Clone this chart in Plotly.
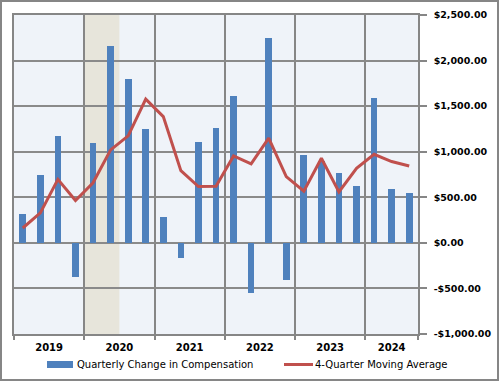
import plotly.graph_objects as go

# ---- data ----
quarters = ["2019 Q1", "2019 Q2", "2019 Q3", "2019 Q4",
            "2020 Q1", "2020 Q2", "2020 Q3", "2020 Q4",
            "2021 Q1", "2021 Q2", "2021 Q3", "2021 Q4",
            "2022 Q1", "2022 Q2", "2022 Q3", "2022 Q4",
            "2023 Q1", "2023 Q2", "2023 Q3", "2023 Q4",
            "2024 Q1", "2024 Q2", "2024 Q3"]
comp_change = [314, 744, 1174, -380,
               1097, 2165, 1799, 1251,
               281, -165, 1108, 1265,
               1613, -545, 2249, -402,
               965, 900, 766, 623,
               1594, 590, 546]
moving_avg = [163, 329, 697, 465,
              659, 1020, 1174, 1577,
              1385, 792, 618, 620,
              954, 866, 1149, 727,
              568, 928, 558, 818,
              972, 892, 843]
years = ["2019", "2020", "2021", "2022", "2023", "2024"]
recession_quarters = ["2020 Q1", "2020 Q2"]
y_tick_vals = [-1000, -500, 0, 500, 1000, 1500, 2000, 2500]
y_tick_text = ["-$1,000.00", "-$500.00", "$0.00", "$500.00",
               "$1,000.00", "$1,500.00", "$2,000.00", "$2,500.00"]
series_names = ["Quarterly Change in Compensation", "4-Quarter Moving Average"]

# ---- derived positions ----
x_idx = list(range(len(quarters)))
year_centers = []
year_bounds = [-0.5]
for yr in years:
    idx = [i for i, q in enumerate(quarters) if q.startswith(yr)]
    year_centers.append(sum(idx) / len(idx))
    year_bounds.append(max(idx) + 0.5)
rec_idx = [quarters.index(q) for q in recession_quarters]

GRID = "#868686"
BLUE = "#4F81BD"
RED = "#C0504D"
FONT = "DejaVu Sans"

fig = go.Figure()
fig.add_trace(go.Bar(x=x_idx, y=comp_change, width=0.38, marker_color=BLUE,
                     marker_line_width=0, name=series_names[0], showlegend=False))
fig.add_trace(go.Scatter(x=x_idx, y=moving_avg, mode="lines",
                         line=dict(color=RED, width=3), name=series_names[1],
                         showlegend=False))

# recession shading
fig.add_shape(type="rect", xref="x", yref="y",
              x0=min(rec_idx) - 0.5, x1=max(rec_idx) + 0.5,
              y0=min(y_tick_vals), y1=max(y_tick_vals),
              fillcolor="#E7E5DB", line_width=0, layer="below")

# plot area geometry (pixels) for paper conversions
W, H = 500, 381
ML, MR, MT, MB = 14, 82, 15, 47
PW, PH = W - ML - MR, H - MT - MB


def px(xp):
    return (xp - ML) / PW


def py(yp):
    return (H - MB - yp) / PH


# outer chart border
fig.add_shape(type="rect", xref="paper", yref="paper",
              x0=px(1), x1=px(498), y0=py(380), y1=py(1),
              line=dict(color=GRID, width=2), fillcolor="rgba(0,0,0,0)", layer="above")

# manual legend
fig.add_shape(type="rect", xref="paper", yref="paper",
              x0=px(47), x1=px(73), y0=py(368), y1=py(361),
              fillcolor=BLUE, line_width=0)
fig.add_annotation(xref="paper", yref="paper", x=px(75), y=py(364.5),
                   text=series_names[0], showarrow=False, xanchor="left", yanchor="middle",
                   font=dict(family=FONT, size=10, color="#000000"))
fig.add_shape(type="line", xref="paper", yref="paper",
              x0=px(284), x1=px(313), y0=py(364.5), y1=py(364.5),
              line=dict(color=RED, width=3))
fig.add_annotation(xref="paper", yref="paper", x=px(313), y=py(364.5),
                   text=series_names[1], showarrow=False, xanchor="left", yanchor="middle",
                   font=dict(family=FONT, size=10, color="#000000"))

fig.update_layout(
    width=W, height=H,
    margin=dict(l=ML, r=MR, t=MT, b=MB, pad=0),
    paper_bgcolor="#FFFFFF",
    plot_bgcolor="#EFF3F9",
    font=dict(family=FONT, size=10, color="#000000"),
    showlegend=False,
    bargap=0,
    xaxis=dict(
        range=[-0.5, len(quarters) - 0.5],
        tickmode="array", tickvals=year_centers, ticktext=years,
        ticks="", showgrid=False, zeroline=False,
        showline=True, linecolor=GRID, linewidth=1.5, mirror=True,
        tickfont=dict(family=FONT, size=10, color="#000000", weight="bold"),
        ticklabelstandoff=3,
        automargin=False,
        minor=dict(tickmode="array", tickvals=year_bounds, ticks="outside",
                   ticklen=4, tickcolor=GRID, tickwidth=1.5,
                   showgrid=True, gridcolor=GRID, gridwidth=1.5),
    ),
    yaxis=dict(
        side="right",
        range=[-1000, 2500],
        tickmode="array", tickvals=y_tick_vals, ticktext=y_tick_text,
        ticks="outside", ticklen=7, tickcolor=GRID, tickwidth=1.5,
        showgrid=True, gridcolor="#8A8A8A", gridwidth=2, zeroline=False,
        showline=True, linecolor=GRID, linewidth=1.5, mirror=True,
        tickfont=dict(family=FONT, size=9.5, color="#000000", weight="bold"),
        ticklabelstandoff=5,
        automargin=False,
    ),
)

fig.write_html("out.html",
               config={"displayModeBar": False},
               post_script="document.body.style.margin='0';document.body.style.padding='0';")
